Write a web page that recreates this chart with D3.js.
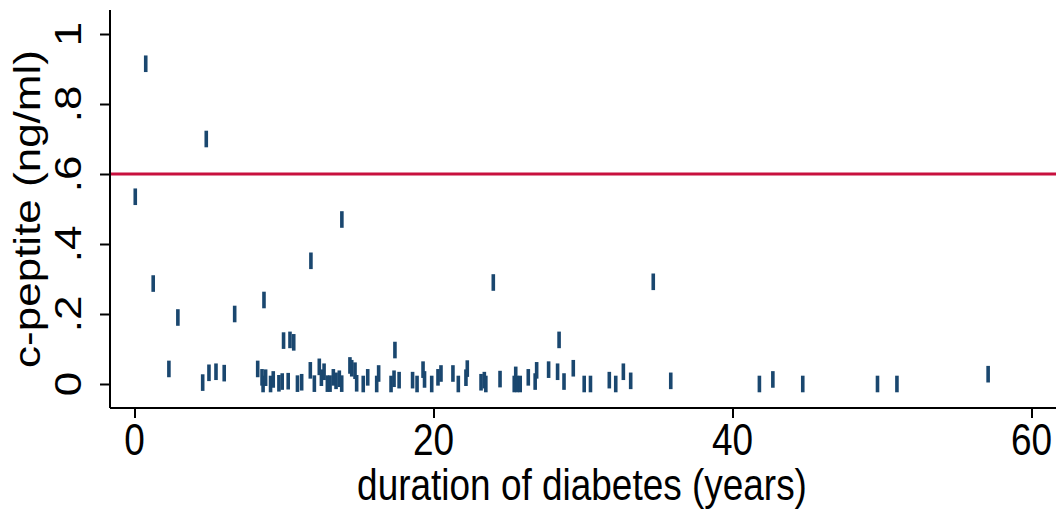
<!DOCTYPE html>
<html>
<head>
<meta charset="utf-8">
<script src="https://cdn.jsdelivr.net/npm/d3@7"></script>
<style>
  html, body { margin: 0; padding: 0; background: #ffffff; }
  svg { display: block; }
  text { font-family: "Liberation Sans", Arial, Helvetica, sans-serif; fill: #000; }
</style>
</head>
<body>
<svg id="chart" width="1058" height="511"></svg>
<script>
// Duration of diabetes (years) and measured c-peptide (ng/ml), one entry per patient
const duration = [
  0.05, 0.75, 1.25, 2.3, 2.9, 4.56, 4.8, 4.98, 5.45, 6.0,
  6.7, 8.24, 8.53, 8.6, 8.66, 8.77, 9.1, 9.28, 9.66, 9.88,
  9.97, 10.28, 10.4, 10.65, 10.9, 11.18, 11.76, 11.8, 12.03, 12.36,
  12.5, 12.68, 12.9, 13.08, 13.3, 13.48, 13.7, 13.86, 13.87, 14.41,
  14.53, 14.75, 14.86, 15.3, 15.6, 16.2, 16.33, 17.16, 17.36, 17.42,
  17.7, 18.6, 18.9, 19.3, 19.4, 19.88, 20.3, 20.5, 21.3, 21.66,
  22.17, 22.26, 23.18, 23.4, 23.5, 24.0, 24.45, 25.4, 25.5, 25.6,
  25.8, 26.34, 26.8, 26.9, 27.7, 28.4, 28.3, 28.73, 29.35, 30.08,
  30.5, 31.76, 32.19, 32.7, 33.19, 34.7, 35.87, 41.8, 42.7, 44.7,
  49.7, 51.0, 57.1
];
const cpeptide = [
  0.535, 0.915, 0.287, 0.043, 0.19, 0.004, 0.70, 0.032, 0.035, 0.031,
  0.20, 0.043, 0.019, 0.0, 0.24, 0.018, 0.0, 0.013, 0.002, 0.007,
  0.124, 0.008, 0.126, 0.119, 0.001, 0.005, 0.039, 0.352, 0.001, 0.049,
  0.018, 0.035, 0.001, 0.001, 0.019, 0.009, 0.015, 0.001, 0.47, 0.053,
  0.045, 0.038, 0.002, 0.0, 0.019, 0.0, 0.03, 0.0, 0.015, 0.097,
  0.011, 0.011, 0.0, 0.041, 0.013, 0.0, 0.019, 0.03, 0.03, 0.0,
  0.018, 0.044, 0.005, 0.011, 0.0, 0.29, 0.014, 0.0, 0.026, 0.0,
  0.0, 0.019, 0.007, 0.039, 0.041, 0.126, 0.035, 0.007, 0.045, 0.0,
  0.0, 0.011, 0.0, 0.035, 0.009, 0.292, 0.009, 0.0, 0.013, 0.0,
  0.0, 0.0, 0.028
];

// Axis ticks and labels
const xTicks = [0, 20, 40, 60];
const yTicks = [0, 0.2, 0.4, 0.6, 0.8, 1];
const yTickLabels = ["0", ".2", ".4", ".6", ".8", "1"];
const cutoff = [0.6];
const xTitle = "duration of diabetes (years)";
const yTitle = "c-peptite (ng/ml)";

const navy = "#1a476f";
const cranberry = "#c8103e";
const fontSize = 44;
const squeeze = 0.84; // horizontally condensed lettering

const svg = d3.select("#chart");
const plotLeft = 110, plotRight = 1056, plotTop = 10, plotBottom = 408;

const x = d3.scaleLinear().domain([-1.64, 61.64]).range([plotLeft, plotRight]);
const y = d3.scaleLinear().domain([-0.0686, 1.0686]).range([plotBottom, plotTop]);

const points = duration.map((d, i) => ({ x: d, y: cpeptide[i] }));

// Reference line at the c-peptide cutoff
svg.append("g").selectAll("line").data(cutoff).join("line")
  .attr("x1", plotLeft).attr("x2", plotRight)
  .attr("y1", d => y(d)).attr("y2", d => y(d))
  .attr("stroke", cranberry).attr("stroke-width", 3);

// Vertical-bar markers
const mw = 3.6, mh = 16.6;
svg.append("g").selectAll("rect").data(points).join("rect")
  .attr("x", d => x(d.x) - mw / 2)
  .attr("y", d => y(d.y) - mh / 2)
  .attr("width", mw).attr("height", mh)
  .attr("fill", navy);

// Axes
const xAxis = svg.append("g").attr("transform", `translate(0,${plotBottom})`)
  .call(d3.axisBottom(x).tickValues(xTicks).tickSize(10).tickFormat(""));
const yAxis = svg.append("g").attr("transform", `translate(${plotLeft},0)`)
  .call(d3.axisLeft(y).tickValues(yTicks).tickSize(10).tickFormat(""));
[xAxis, yAxis].forEach(g => {
  g.select(".domain").attr("stroke", "#000").attr("stroke-width", 2);
  g.selectAll(".tick line").attr("stroke", "#000").attr("stroke-width", 2);
});
xAxis.select(".domain").attr("d", `M${plotLeft},0H${plotRight}`);
yAxis.select(".domain").attr("d", `M0,${plotTop}V${plotBottom}`);

// Tick labels
svg.append("g").selectAll("text").data(xTicks).join("text")
  .attr("transform", d => `translate(${x(d)},455) scale(${squeeze},1)`)
  .attr("text-anchor", "middle")
  .attr("font-size", fontSize)
  .text(d => d);

svg.append("g").selectAll("text").data(yTicks).join("text")
  .attr("transform", d => `translate(81,${y(d)}) scale(${squeeze},1) rotate(-90)`)
  .attr("text-anchor", "middle")
  .attr("font-size", fontSize)
  .text((d, i) => yTickLabels[i]);

// Axis titles
svg.append("text")
  .attr("transform", `translate(${(plotLeft + plotRight) / 2 - 1},500) scale(${squeeze},1)`)
  .attr("text-anchor", "middle")
  .attr("font-size", fontSize)
  .text(xTitle);

svg.append("text")
  .attr("transform", `translate(40,${(plotTop + plotBottom) / 2}) scale(${squeeze},1) rotate(-90)`)
  .attr("text-anchor", "middle")
  .attr("font-size", fontSize)
  .text(yTitle);
</script>
</body>
</html>
